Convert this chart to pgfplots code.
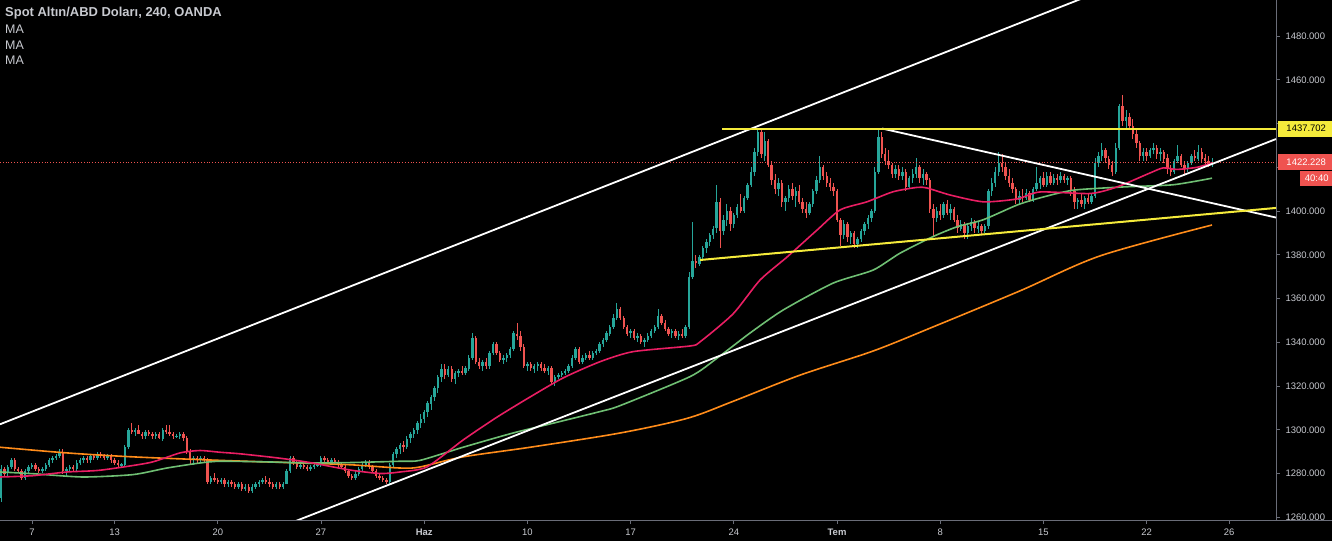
\documentclass[border=0pt]{standalone}
\usepackage{fontspec}
\setmainfont{Liberation Sans}
\usepackage{pgfplots}
\usepackage{pgfplotstable}
\pgfplotsset{compat=1.18}
\definecolor{upc}{HTML}{26A69A}
\definecolor{dnc}{HTML}{EF5350}
\definecolor{maA}{HTML}{E91E63}
\definecolor{maB}{HTML}{6FBF73}
\definecolor{maC}{HTML}{FF8C1A}
\definecolor{axc}{HTML}{6A6D78}
\definecolor{txt}{HTML}{C8CAD0}
\definecolor{ylw}{HTML}{F5EB3B}

\pgfplotstableread{
i o h l c
-9 1269 1284 1267 1282
-8 1282 1283 1279 1280
-7 1280 1284 1279 1283
-6 1283 1287 1282 1286
-5 1286 1287 1281 1282
-4 1282 1283 1280 1281
-3 1281 1282 1277 1278
-2 1278 1282 1277 1281
-1 1281 1284 1280 1283
0 1283 1285 1282 1284
1 1284 1285 1281 1282
2 1282 1283 1280 1281
3 1281 1283 1280 1282
4 1282 1285 1281 1284
5 1284 1287 1283 1286
6 1286 1288 1285 1287
7 1287 1289 1286 1288
8 1288 1291 1287 1290
9 1290 1291 1280 1281
10 1281 1283 1279 1282
11 1282 1284 1281 1283
12 1283 1284 1281 1282
13 1282 1286 1281 1285
14 1285 1287 1284 1286
15 1286 1288 1285 1287
16 1287 1288 1285 1286
17 1286 1289 1285 1288
18 1288 1289 1286 1287
19 1287 1290 1286 1289
20 1289 1290 1287 1288
21 1288 1289 1286 1287
22 1287 1289 1286 1288
23 1288 1289 1285 1286
24 1286 1287 1284 1285
25 1285 1286 1283 1284
26 1284 1285 1283 1284
27 1284 1293 1283 1292
28 1292 1301 1291 1300
29 1300 1303 1298 1299
30 1299 1301 1297 1300
31 1300 1302 1298 1298
32 1298 1299 1296 1297
33 1297 1300 1296 1299
34 1299 1300 1297 1298
35 1298 1299 1296 1297
36 1297 1299 1296 1298
37 1298 1299 1296 1296
38 1296 1301 1295 1300
39 1300 1302 1298 1299
40 1299 1302 1297 1298
41 1298 1299 1296 1297
42 1297 1298 1296 1297
43 1297 1299 1296 1298
44 1298 1299 1295 1296
45 1296 1297 1289 1290
46 1290 1291 1284 1286
47 1286 1288 1284 1287
48 1287 1288 1285 1286
49 1286 1288 1285 1287
50 1287 1288 1285 1286
51 1286 1287 1275 1276
52 1276 1279 1275 1278
53 1278 1280 1276 1277
54 1277 1278 1275 1276
55 1276 1278 1275 1277
56 1277 1278 1274 1275
57 1275 1277 1274 1276
58 1276 1277 1274 1275
59 1275 1276 1273 1274
60 1274 1276 1273 1275
61 1275 1276 1272 1273
62 1273 1275 1272 1274
63 1274 1275 1271 1272
64 1272 1275 1271 1274
65 1274 1276 1273 1275
66 1275 1277 1274 1276
67 1276 1278 1275 1277
68 1277 1279 1275 1276
69 1276 1278 1274 1275
70 1275 1276 1273 1274
71 1274 1276 1273 1275
72 1275 1276 1273 1274
73 1274 1276 1273 1275
74 1275 1282 1275 1281
75 1281 1288 1280 1287
76 1287 1288 1284 1285
77 1285 1286 1282 1283
78 1283 1285 1282 1284
79 1284 1285 1282 1283
80 1283 1284 1281 1282
81 1282 1284 1281 1283
82 1283 1285 1282 1284
83 1284 1285 1283 1284
84 1284 1288 1283 1287
85 1287 1288 1285 1286
86 1286 1287 1285 1285
87 1285 1287 1284 1286
88 1286 1287 1284 1285
89 1285 1286 1283 1284
90 1284 1285 1282 1283
91 1283 1284 1280 1281
92 1281 1282 1278 1279
93 1279 1280 1277 1278
94 1278 1281 1277 1280
95 1280 1283 1279 1282
96 1282 1285 1281 1284
97 1284 1286 1283 1285
98 1285 1286 1282 1283
99 1283 1284 1280 1281
100 1281 1282 1278 1279
101 1279 1280 1277 1278
102 1278 1279 1276 1277
103 1277 1278 1275 1276
104 1276 1285 1275 1284
105 1284 1290 1283 1289
106 1289 1292 1287 1291
107 1291 1294 1289 1293
108 1293 1295 1290 1292
109 1292 1297 1291 1296
110 1296 1299 1294 1298
111 1298 1301 1296 1300
112 1300 1304 1298 1303
113 1303 1307 1301 1305
114 1305 1309 1303 1308
115 1308 1313 1306 1312
116 1312 1316 1309 1315
117 1315 1320 1313 1319
118 1319 1325 1317 1324
119 1324 1330 1322 1328
120 1328 1330 1323 1325
121 1325 1329 1324 1328
122 1328 1329 1322 1323
123 1323 1327 1321 1326
124 1326 1328 1324 1327
125 1327 1329 1325 1326
126 1326 1329 1325 1328
127 1328 1334 1327 1333
128 1333 1344 1332 1342
129 1342 1343 1330 1331
130 1331 1333 1328 1329
131 1329 1332 1327 1331
132 1331 1333 1328 1329
133 1329 1336 1328 1335
134 1335 1340 1334 1339
135 1339 1340 1334 1335
136 1335 1336 1331 1332
137 1332 1334 1330 1333
138 1333 1335 1331 1334
139 1334 1338 1333 1337
140 1337 1345 1336 1344
141 1344 1349 1341 1343
142 1343 1345 1336 1338
143 1338 1339 1328 1329
144 1329 1331 1327 1330
145 1330 1331 1327 1328
146 1328 1330 1326 1329
147 1329 1331 1327 1330
148 1330 1331 1327 1328
149 1328 1330 1326 1327
150 1327 1329 1325 1328
151 1328 1329 1321 1322
152 1322 1325 1320 1324
153 1324 1326 1323 1325
154 1325 1327 1324 1326
155 1326 1328 1325 1327
156 1327 1330 1326 1329
157 1329 1334 1328 1333
158 1333 1338 1332 1337
159 1337 1338 1330 1331
160 1331 1334 1330 1333
161 1333 1335 1332 1334
162 1334 1336 1332 1333
163 1333 1336 1332 1335
164 1335 1337 1334 1336
165 1336 1340 1335 1339
166 1339 1342 1338 1341
167 1341 1345 1340 1344
168 1344 1348 1343 1347
169 1347 1353 1346 1351
170 1351 1358 1350 1355
171 1355 1356 1350 1351
172 1351 1352 1346 1347
173 1347 1348 1343 1344
174 1344 1346 1342 1345
175 1345 1346 1341 1342
176 1342 1344 1340 1343
177 1343 1344 1339 1340
178 1340 1342 1338 1341
179 1341 1344 1340 1343
180 1343 1346 1342 1345
181 1345 1348 1344 1347
182 1347 1355 1346 1352
183 1352 1353 1348 1349
184 1349 1350 1345 1346
185 1346 1347 1343 1344
186 1344 1346 1342 1345
187 1345 1346 1342 1343
188 1343 1345 1341 1344
189 1344 1346 1342 1343
190 1343 1348 1342 1347
191 1347 1372 1346 1370
192 1370 1395 1369 1377
193 1377 1380 1374 1376
194 1376 1380 1375 1379
195 1379 1384 1377 1383
196 1383 1387 1381 1386
197 1386 1390 1384 1389
198 1389 1393 1387 1392
199 1392 1412 1390 1404
200 1404 1406 1383 1391
201 1391 1398 1389 1396
202 1396 1403 1393 1400
203 1400 1402 1391 1394
204 1394 1399 1392 1398
205 1398 1403 1397 1402
206 1402 1408 1399 1400
207 1400 1407 1399 1406
208 1406 1413 1405 1412
209 1412 1420 1411 1418
210 1418 1429 1416 1427
211 1427 1438 1425 1436
212 1436 1437 1424 1426
213 1425 1436 1423 1432
214 1432 1433 1420 1421
215 1421 1423 1412 1414
216 1414 1417 1408 1410
217 1410 1415 1407 1413
218 1413 1414 1402 1404
219 1404 1407 1400 1406
220 1406 1412 1404 1410
221 1410 1413 1405 1407
222 1407 1411 1402 1409
223 1409 1412 1403 1404
224 1404 1406 1399 1401
225 1401 1404 1397 1399
226 1399 1404 1398 1403
227 1403 1410 1402 1409
228 1409 1416 1408 1414
229 1414 1425 1413 1420
230 1420 1421 1414 1416
231 1416 1418 1411 1413
232 1413 1415 1409 1411
233 1411 1413 1407 1409
234 1409 1410 1395 1396
235 1396 1397 1384 1389
236 1389 1396 1387 1394
237 1394 1395 1386 1388
238 1388 1391 1385 1390
239 1390 1391 1383 1385
240 1385 1388 1383 1387
241 1387 1392 1386 1391
242 1391 1395 1389 1394
243 1394 1398 1392 1397
244 1397 1401 1395 1400
245 1400 1420 1399 1418
246 1418 1438 1417 1434
247 1434 1436 1424 1426
248 1426 1429 1421 1423
249 1423 1428 1419 1421
250 1421 1422 1415 1417
251 1417 1421 1415 1419
252 1419 1421 1414 1416
253 1416 1420 1414 1418
254 1418 1419 1409 1411
255 1411 1416 1410 1415
256 1415 1419 1413 1417
257 1417 1424 1415 1420
258 1420 1421 1413 1415
259 1415 1419 1412 1417
260 1417 1418 1412 1414
261 1414 1415 1399 1401
262 1401 1403 1388 1397
263 1397 1402 1395 1400
264 1400 1403 1396 1398
265 1398 1404 1397 1403
266 1403 1405 1398 1399
267 1399 1403 1396 1401
268 1401 1402 1395 1396
269 1396 1398 1390 1392
270 1392 1396 1391 1394
271 1394 1395 1387 1390
272 1390 1394 1387 1393
273 1393 1397 1391 1395
274 1395 1396 1390 1392
275 1392 1395 1390 1393
276 1393 1394 1389 1391
277 1391 1394 1390 1393
278 1393 1410 1392 1409
279 1409 1415 1407 1413
280 1413 1420 1411 1418
281 1418 1427 1416 1422
282 1422 1426 1418 1420
283 1420 1422 1414 1416
284 1416 1419 1411 1413
285 1413 1415 1408 1410
286 1410 1411 1403 1405
287 1405 1409 1403 1407
288 1407 1410 1404 1406
289 1406 1410 1405 1408
290 1408 1409 1404 1405
291 1405 1411 1404 1410
292 1410 1420 1409 1413
293 1413 1416 1410 1415
294 1415 1418 1411 1412
295 1412 1418 1411 1416
296 1416 1418 1412 1413
297 1413 1417 1412 1415
298 1415 1417 1412 1414
299 1414 1418 1413 1416
300 1416 1417 1413 1414
301 1414 1416 1412 1415
302 1415 1416 1407 1409
303 1409 1411 1401 1404
304 1404 1406 1401 1405
305 1405 1408 1402 1403
306 1403 1407 1401 1406
307 1406 1408 1403 1404
308 1404 1408 1403 1407
309 1407 1424 1406 1422
310 1422 1427 1420 1425
311 1425 1431 1423 1428
312 1428 1429 1422 1424
313 1424 1425 1419 1421
314 1421 1423 1416 1418
315 1418 1431 1417 1429
316 1429 1449 1428 1448
317 1448 1453 1439 1441
318 1441 1446 1438 1443
319 1443 1445 1437 1439
320 1439 1442 1433 1435
321 1435 1437 1429 1431
322 1431 1432 1423 1425
323 1425 1429 1423 1427
324 1427 1429 1423 1425
325 1425 1429 1424 1428
326 1428 1431 1426 1429
327 1429 1430 1424 1426
328 1426 1429 1423 1427
329 1427 1428 1422 1424
330 1424 1426 1417 1419
331 1419 1421 1416 1418
332 1418 1424 1417 1423
333 1423 1430 1422 1425
334 1425 1426 1420 1421
335 1421 1423 1417 1419
336 1419 1423 1418 1422
337 1422 1426 1421 1425
338 1425 1428 1423 1424
339 1424 1430 1423 1427
340 1427 1429 1422 1424
341 1424 1426 1421 1423
342 1423 1425 1420 1421
343 1421 1424 1420 1422.2
}\candles

\begin{document}
\begin{tikzpicture}
\useasboundingbox (0,-21bp) rectangle (1332bp,520bp);
\fill[black] (0,-21bp) rectangle (1332bp,520bp);
\begin{axis}[
  at={(0,0)}, anchor=south west,
  scale only axis, width=1276bp, height=520bp,
  xmin=-9.3, xmax=361.6, ymin=1258.74, ymax=1496.46,
  axis x line*=bottom, axis y line*=right,
  axis line style={draw=axc, line width=0.8bp},
  clip mode=individual,
  xtick={0,24,54,84,114,144,174,204,234,264,294,324,348},
  xticklabels={7,13,20,27,\textbf{Haz},10,17,24,\textbf{Tem},8,15,22,26},
  ytick={1260,1280,1300,1320,1340,1360,1380,1400,1420,1440,1460,1480},
  yticklabels={1260.000,1280.000,1300.000,1320.000,1340.000,1360.000,1380.000,1400.000,{},{},1460.000,1480.000},
  tick style={draw=axc, line width=0.8bp},
  major tick length=4bp,
  tick align=outside,
  ticklabel style={font=\fontsize{9.5}{11}\selectfont, text=txt},
  xticklabel style={yshift=-1.5bp},
  yticklabel style={xshift=2bp},
]
% candles: wicks and bodies
\addplot[draw=none, mark=none, forget plot,
  restrict expr to domain={\thisrow{c}-\thisrow{o}}{0:1000},
  error bars/.cd, y dir=both, y explicit, error mark=none,
  error bar style={draw=upc, line width=1bp}]
  table[x=i, y expr={(\thisrow{h}+\thisrow{l})/2}, y error expr={(\thisrow{h}-\thisrow{l})/2}]{\candles};
\addplot[draw=none, mark=none, forget plot,
  restrict expr to domain={\thisrow{c}-\thisrow{o}}{0:1000},
  error bars/.cd, y dir=both, y explicit, error mark=none,
  error bar style={draw=upc, line width=2.4bp}]
  table[x=i, y expr={(\thisrow{o}+\thisrow{c})/2}, y error expr={max(abs(\thisrow{c}-\thisrow{o})/2,0.2)}]{\candles};
\addplot[draw=none, mark=none, forget plot,
  restrict expr to domain={\thisrow{c}-\thisrow{o}}{-1000:-0.001},
  error bars/.cd, y dir=both, y explicit, error mark=none,
  error bar style={draw=dnc, line width=1bp}]
  table[x=i, y expr={(\thisrow{h}+\thisrow{l})/2}, y error expr={(\thisrow{h}-\thisrow{l})/2}]{\candles};
\addplot[draw=none, mark=none, forget plot,
  restrict expr to domain={\thisrow{c}-\thisrow{o}}{-1000:-0.001},
  error bars/.cd, y dir=both, y explicit, error mark=none,
  error bar style={draw=dnc, line width=2.4bp}]
  table[x=i, y expr={(\thisrow{o}+\thisrow{c})/2}, y error expr={max(abs(\thisrow{c}-\thisrow{o})/2,0.2)}]{\candles};

% moving averages
\addplot[maC, line width=1.6bp, smooth, tension=0.5] coordinates {
(-9.3,1292) (10.2,1289.4) (29.4,1287.6) (54.7,1286) (77.9,1284.8) (92.4,1284) (107,1282.5) (112.8,1283) (125.3,1287.6) (144.8,1292) (170.9,1298.5) (190.4,1305.2) (203.8,1313) (223.3,1325) (244.5,1336) (261.9,1347) (287.2,1363.5) (310.5,1379.5) (343,1393.6)};
\addplot[maB, line width=1.6bp, smooth, tension=0.4] coordinates {
(-9.3,1280.7) (0.3,1279.9) (14.8,1278.4) (29.4,1279.5) (39.2,1282.5) (48.8,1284.8) (54.7,1285.6) (68.3,1285.3) (80.8,1284.8) (92.4,1285) (107,1285.6) (112.8,1286) (125.3,1292) (139.8,1298.5) (151.5,1303) (165.1,1308.3) (170.9,1311) (191.3,1324.3) (199.1,1332.7) (208.7,1344.2) (218.3,1354.7) (232.8,1367) (244.5,1373) (252.3,1380.7) (261.9,1388.3) (268.9,1392.8) (276.5,1396) (286.3,1402.7) (293,1406) (302.6,1409.5) (317.2,1411) (331.7,1412) (343,1415)};
\addplot[maA, line width=1.6bp, smooth, tension=0.4] coordinates {
(-9.3,1278.4) (0.3,1279) (10.2,1280.7) (19.8,1281.5) (34.3,1285) (43,1289.4) (48.8,1290.5) (54.7,1289.7) (60.5,1289) (72,1287) (80.8,1285) (92.4,1281.6) (101.2,1280) (107,1280.7) (114.8,1283) (125.3,1295.3) (135.2,1305.8) (144.8,1315) (154.4,1323.7) (165.1,1331.1) (174.7,1335.7) (191.3,1338.3) (194.2,1340.2) (203.8,1353) (211.6,1368.4) (219.5,1379) (228.2,1391.3) (234.9,1400.5) (242.7,1404.2) (250.3,1408.8) (257.3,1410.8) (260.2,1410.5) (266.9,1407.3) (276.5,1404.2) (286.3,1405.5) (293,1408.7) (307.6,1408) (315.4,1411) (325,1417.4) (328.8,1419.7) (332.8,1419) (338.7,1420) (343,1422)};

% last price line
\addplot[dnc, line width=0.8bp, dotted] coordinates {(-9.3,1422.228) (361.6,1422.228)};

% drawings
\addplot[white, line width=1.8bp] coordinates {(-9.3,1302.5) (320,1506.3)};
\addplot[white, line width=1.8bp] coordinates {(70,1254.2) (361.6,1432.9)};
\addplot[white, line width=1.8bp] coordinates {(247.1,1437.7) (361.6,1397)};
\addplot[ylw, line width=2bp] coordinates {(200.6,1437.702) (361.6,1437.702)};
\addplot[ylw, line width=2bp] coordinates {(194.2,1377.6) (361.6,1401.4)};

\coordinate (pY) at (axis cs:361.6,1437.702);
\coordinate (pR) at (axis cs:361.6,1422.228);
\end{axis}
% price labels
\node[fill=ylw, text=black, anchor=west, minimum width=56bp, minimum height=16bp, inner sep=1bp, font=\fontsize{9.5}{11}\selectfont] at ([xshift=2bp]pY) {1437.702};
\node[fill=dnc, text=white, anchor=west, minimum width=56bp, minimum height=16bp, inner sep=1bp, font=\fontsize{9.5}{11}\selectfont] at ([xshift=2bp]pR) {1422.228};
\node[fill=dnc, text=white, anchor=north east, minimum width=34bp, minimum height=15bp, inner sep=1bp, font=\fontsize{9.5}{11}\selectfont] at (1334bp,349bp) {40:40};
% clip price label below bottom line
\fill[black] (1277bp,-21bp) rectangle (1332bp,-0.4bp);
\draw[axc, line width=0.8bp] (0,0) -- (1332bp,0);
% header
\node[anchor=west, text=txt, font=\bfseries\fontsize{13}{15}\selectfont, inner sep=0pt] at (5bp,506.5bp) {Spot Altın/ABD Doları, 240, OANDA};
\node[anchor=west, text=txt, font=\fontsize{12.5}{14}\selectfont, inner sep=0pt] at (5bp,490.5bp) {MA};
\node[anchor=west, text=txt, font=\fontsize{12.5}{14}\selectfont, inner sep=0pt] at (5bp,475bp) {MA};
\node[anchor=west, text=txt, font=\fontsize{12.5}{14}\selectfont, inner sep=0pt] at (5bp,459.5bp) {MA};
\end{tikzpicture}
\end{document}
